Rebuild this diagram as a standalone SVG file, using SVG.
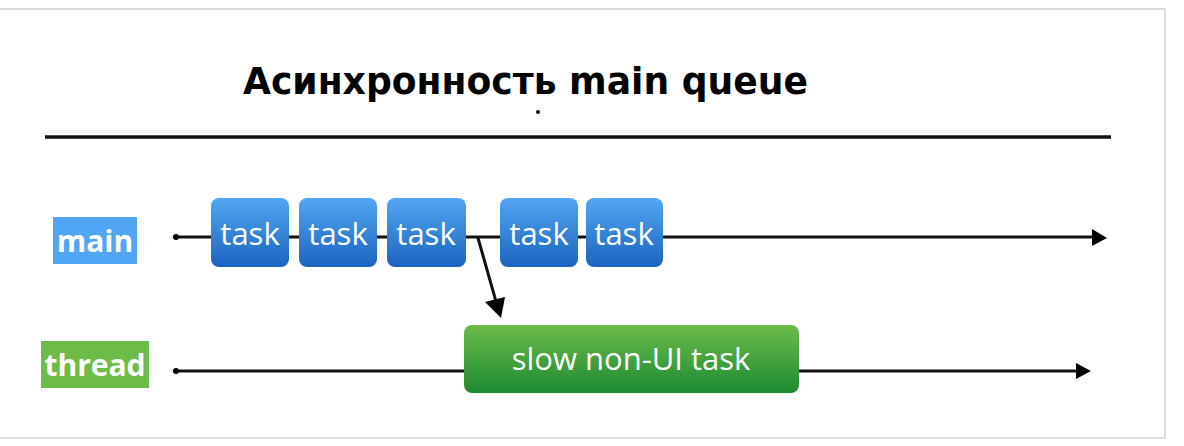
<svg xmlns="http://www.w3.org/2000/svg" width="1184" height="446" viewBox="0 0 1184 446">
<style>
.ln{stroke:#111;stroke-width:3;fill:none;stroke-linecap:round}
.tk{font-family:"Open Sans","Noto Sans",sans-serif;font-size:31px;fill:#fff;text-anchor:middle}
.lb{font-family:"Open Sans","Noto Sans",sans-serif;font-size:30px;font-weight:bold;fill:#fff;text-anchor:middle}
.title{font-family:"DejaVu Sans","Noto Sans",sans-serif;font-size:38px;font-weight:bold;fill:#000}
</style>
<defs>
<linearGradient id="gb" x1="0" y1="0" x2="0" y2="1">
<stop offset="0" stop-color="#52a6f2"/>
<stop offset="1" stop-color="#1a64bf"/>
</linearGradient>
<linearGradient id="gg" x1="0" y1="0" x2="0" y2="1">
<stop offset="0" stop-color="#6cbb4b"/>
<stop offset="1" stop-color="#1d8a32"/>
</linearGradient>
</defs>
<rect x="0" y="0" width="1184" height="446" fill="#fff"/>
<rect x="-5" y="9" width="1170" height="429" fill="none" stroke="#dcdcdc" stroke-width="2"/>
<g id="title">
<text class="title" x="243" y="94" textLength="565" lengthAdjust="spacingAndGlyphs">Асинхронность main queue</text>
<circle cx="538" cy="112" r="2" fill="#000"/>
<path d="M45,137 L1111,137" stroke="#111" stroke-width="3.5"/>
</g>
<g id="connectors">
<path class="ln" d="M175,237 L211,237 M289,237 L299,237 M377,237 L387,237 M466,237 L500,237 M578,237 L586,237 M663,237 L1097,237"/>
<circle cx="176" cy="237" r="3" fill="#000"/>
<path d="M1092,229 L1107,238 L1092,246 Z" fill="#000"/>
<path class="ln" d="M175,371 L464,371 M799,371 L1080,371"/>
<circle cx="176" cy="371" r="3" fill="#000"/>
<path d="M1076,363 L1091,371 L1076,379 Z" fill="#000"/>
<path class="ln" d="M478,238 L497,305"/>
<path d="M485,302 L501,318 L505,297 Z" fill="#000"/>
</g>
<g id="label-main">
<rect x="53" y="217" width="84" height="47" fill="#50a6f5"/>
<text class="lb" x="95" y="252">main</text>
</g>
<g id="label-thread">
<rect x="41" y="341" width="108" height="47" fill="#6dbc48"/>
<text class="lb" x="95" y="376">thread</text>
</g>
<g id="task1"><rect x="211" y="198" width="78" height="69" rx="8" fill="url(#gb)"/><text class="tk" x="250" y="245">task</text></g>
<g id="task2"><rect x="299" y="198" width="78" height="69" rx="8" fill="url(#gb)"/><text class="tk" x="338" y="245">task</text></g>
<g id="task3"><rect x="387" y="198" width="79" height="69" rx="8" fill="url(#gb)"/><text class="tk" x="426" y="245">task</text></g>
<g id="task4"><rect x="500" y="198" width="78" height="69" rx="8" fill="url(#gb)"/><text class="tk" x="539" y="245">task</text></g>
<g id="task5"><rect x="586" y="198" width="77" height="69" rx="8" fill="url(#gb)"/><text class="tk" x="624" y="245">task</text></g>
<g id="slow"><rect x="464" y="325" width="335" height="68" rx="8" fill="url(#gg)"/><text class="tk" x="631" y="370">slow non-UI task</text></g>
</svg>
